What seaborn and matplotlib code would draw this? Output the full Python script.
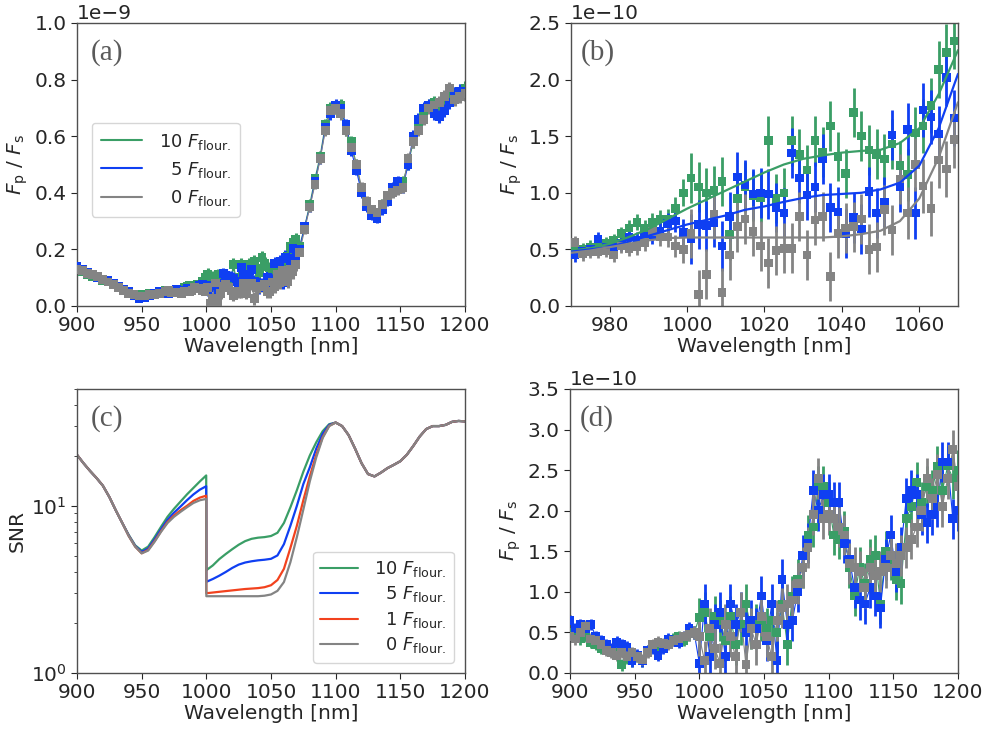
import numpy as np
import pandas as pd
import matplotlib
matplotlib.use("Agg")
import matplotlib.pyplot as plt
from matplotlib.lines import Line2D
import seaborn as sns

# ---------------- colours / labels ----------------
C_GREEN = "#3a9e66"
C_BLUE = "#0f3ff2"
C_RED = "#f2421e"
C_GRAY = "#848484"
labels3 = ["10 $F_{\\rm flour.}$", "  5 $F_{\\rm flour.}$", "  0 $F_{\\rm flour.}$"]
labels4 = ["10 $F_{\\rm flour.}$", "  5 $F_{\\rm flour.}$", "  1 $F_{\\rm flour.}$", "  0 $F_{\\rm flour.}$"]

# ---------------- panel (b) data (units 1e-10), 971..1069 step 2 ----------------
wl_b = np.arange(971, 1070, 2)
green_b = [0.50, 0.50, 0.52, 0.55, 0.55, 0.58, 0.64, 0.69, 0.74, 0.69,
           0.74, 0.77, 0.77, 0.86, 1.00, 1.13, 1.05, 1.00, 1.02, 1.10,
           0.63, 0.95, 1.05, 0.97, 0.96, 1.46, 0.95, 1.00, 1.46, 1.34,
           1.20, 1.46, 1.36, 1.59, 1.32, 1.17, 1.71, 1.50, 1.38, 1.34,
           1.30, 1.43, 1.24, 1.16, 1.53, 1.59, 1.77, 2.09, 2.24, 2.34]
blue_b = [0.45, 0.48, 0.50, 0.59, 0.52, 0.52, 0.55, 0.61, 0.58, 0.62,
          0.63, 0.66, 0.73, 0.75, 0.65, 0.59, 0.72, 0.71, 0.74, 0.53,
          0.79, 1.14, 1.07, 0.99, 1.00, 0.99, 0.87, 0.82, 1.35, 1.13,
          0.98, 1.05, 1.30, 0.87, 0.83, 0.64, 0.78, 0.68, 1.01, 0.82,
          0.92, 1.51, 1.05, 1.56, 0.82, 1.73, 1.67, 1.52, 2.02, 1.66]
gray_b = [0.56, 0.46, 0.48, 0.48, 0.49, 0.45, 0.53, 0.51, 0.52, 0.56,
          0.66, 0.61, 0.61, 0.53, 0.50, 0.64, 0.10, 0.28, 0.81, 0.12,
          0.45, 0.70, 0.77, 0.66, 0.53, 0.38, 0.49, 0.51, 0.51, 0.79,
          0.45, 0.76, 0.79, 0.26, 0.64, 0.69, 0.70, 0.77, 0.50, 0.52,
          0.85, 0.67, 1.12, 0.82, 1.25, 1.06, 0.86, 1.29, 1.21, 1.47]
err_b = [0.06, 0.06, 0.06, 0.06, 0.06, 0.06, 0.06, 0.07, 0.07, 0.07,
         0.08, 0.08, 0.09, 0.10, 0.12, 0.22, 0.22, 0.22, 0.22, 0.22,
         0.22, 0.22, 0.22, 0.22, 0.22, 0.22, 0.22, 0.22, 0.22, 0.22,
         0.22, 0.22, 0.22, 0.22, 0.22, 0.22, 0.22, 0.22, 0.22, 0.22,
         0.22, 0.22, 0.22, 0.23, 0.23, 0.24, 0.24, 0.25, 0.25, 0.25]

wl_fit = np.arange(970, 1071, 5)
green_fit = [0.49, 0.51, 0.55, 0.61, 0.68, 0.77, 0.86, 0.94, 1.02, 1.10, 1.18,
             1.25, 1.30, 1.33, 1.355, 1.37, 1.38, 1.44, 1.57, 1.87, 2.26]
blue_fit = [0.48, 0.50, 0.52, 0.57, 0.62, 0.67, 0.72, 0.76, 0.80, 0.85, 0.88,
            0.92, 0.955, 0.98, 0.99, 1.00, 1.03, 1.09, 1.24, 1.57, 2.05]
gray_fit = [0.47, 0.49, 0.52, 0.55, 0.58, 0.60, 0.605, 0.605, 0.605, 0.605, 0.605,
            0.605, 0.605, 0.605, 0.615, 0.635, 0.665, 0.75, 0.95, 1.31, 1.80]

# ---------------- panel (a) data (units 1e-9) ----------------
wl_a_left = np.arange(900, 969, 4)
green_a_left = [0.13, 0.12, 0.11, 0.105, 0.10, 0.09, 0.085, 0.075, 0.065,
                0.055, 0.045, 0.04, 0.04, 0.04, 0.045, 0.045, 0.05, 0.055]
blue_a_left = [0.14, 0.13, 0.12, 0.11, 0.10, 0.095, 0.09, 0.08, 0.07,
               0.06, 0.05, 0.035, 0.025, 0.03, 0.035, 0.045, 0.05, 0.052]
gray_a_left = [0.13, 0.125, 0.115, 0.11, 0.105, 0.095, 0.085, 0.075, 0.065,
               0.055, 0.045, 0.04, 0.035, 0.035, 0.04, 0.04, 0.045, 0.05]
err_a_left = [0.012, 0.012, 0.012, 0.012, 0.012, 0.012, 0.012, 0.012, 0.012,
              0.012, 0.012, 0.012, 0.012, 0.012, 0.012, 0.012, 0.012, 0.012]

wl_a_right = np.arange(1072, 1201, 4)
green_a_right = [0.21, 0.28, 0.36, 0.45, 0.53, 0.64, 0.70, 0.70, 0.71, 0.62, 0.58,
                 0.50, 0.41, 0.36, 0.34, 0.33, 0.36, 0.38, 0.41, 0.43, 0.44, 0.50,
                 0.58, 0.65, 0.68, 0.71, 0.72, 0.71, 0.73, 0.74, 0.75, 0.76, 0.77]
blue_a_right = [0.20, 0.28, 0.35, 0.44, 0.52, 0.63, 0.68, 0.71, 0.70, 0.64, 0.55,
                0.48, 0.40, 0.35, 0.32, 0.31, 0.34, 0.37, 0.42, 0.44, 0.42, 0.50,
                0.60, 0.66, 0.70, 0.71, 0.68, 0.67, 0.69, 0.72, 0.75, 0.76, 0.76]
gray_a_right = [0.19, 0.27, 0.35, 0.43, 0.52, 0.62, 0.69, 0.70, 0.68, 0.62, 0.56,
                0.50, 0.42, 0.37, 0.34, 0.33, 0.36, 0.39, 0.40, 0.41, 0.42, 0.52,
                0.58, 0.62, 0.66, 0.70, 0.71, 0.72, 0.74, 0.77, 0.73, 0.74, 0.75]
err_a_right = [0.015, 0.016, 0.017, 0.018, 0.019, 0.020, 0.021, 0.021, 0.021, 0.020, 0.019,
               0.018, 0.017, 0.017, 0.017, 0.017, 0.017, 0.018, 0.018, 0.019, 0.020, 0.020,
               0.021, 0.021, 0.022, 0.022, 0.022, 0.022, 0.023, 0.023, 0.023, 0.024, 0.024]

# ---------------- panel (c) data (SNR) ----------------
wl_c_left = [900, 905, 910, 915, 920, 925, 930, 935]
snr_left = [20.2, 18.0, 16.2, 14.7, 13.2, 11.3, 9.4, 7.9]
wl_c_mid = [940, 945, 950, 955, 960, 965, 970, 975, 980, 985, 990, 995, 999.9,
            1000, 1005, 1010, 1015, 1020, 1025, 1030, 1035, 1040, 1045, 1050,
            1055, 1060, 1065, 1070, 1075, 1080, 1085, 1090, 1095]
snr10_mid = [6.7, 5.8, 5.4, 5.7, 6.5, 7.5, 8.6, 9.6, 10.6, 11.7, 12.8, 14.0, 15.2,
             4.12, 4.4, 4.8, 5.15, 5.5, 5.85, 6.15, 6.35, 6.45, 6.5, 6.6,
             6.9, 7.9, 9.8, 12.4, 16.0, 20.0, 24.0, 28.0, 30.8]
snr5_mid = [6.65, 5.75, 5.3, 5.55, 6.3, 7.25, 8.25, 9.1, 9.9, 10.8, 11.7, 12.5, 13.1,
            3.51, 3.65, 3.82, 4.02, 4.25, 4.45, 4.58, 4.66, 4.72, 4.76, 4.82,
            5.05, 5.9, 7.6, 10.0, 13.5, 17.0, 22.0, 27.0, 30.5]
snr1_mid = [6.6, 5.7, 5.2, 5.45, 6.15, 7.05, 8.0, 8.75, 9.4, 10.0, 10.7, 11.2, 11.5,
            3.0, 3.03, 3.06, 3.09, 3.12, 3.15, 3.18, 3.2, 3.22, 3.26, 3.35,
            3.6, 4.2, 5.6, 7.6, 10.8, 15.0, 20.2, 25.8, 30.1]
snr0_mid = [6.6, 5.7, 5.2, 5.4, 6.1, 7.0, 7.9, 8.6, 9.2, 9.8, 10.4, 10.8, 11.0,
            2.88, 2.88, 2.88, 2.88, 2.88, 2.88, 2.88, 2.88, 2.88, 2.9, 2.95,
            3.1, 3.5, 4.6, 6.5, 9.5, 14.0, 19.5, 25.5, 30.0]
wl_c_right = [1100, 1105, 1110, 1115, 1120, 1125, 1130, 1135, 1140, 1145, 1150,
              1155, 1160, 1165, 1170, 1175, 1180, 1185, 1190, 1195, 1200]
snr_right = [31.5, 30.0, 26.5, 22.0, 18.0, 15.5, 15.0, 15.8, 16.8, 17.6, 18.5,
             20.2, 22.8, 26.0, 28.8, 30.0, 30.0, 30.5, 31.8, 32.2, 32.0]

# ---------------- panel (d) data (units 1e-10), 900..1200 step 4 ----------------
wl_d = np.arange(900, 1201, 4)
green_d = [0.50, 0.48, 0.42, 0.45, 0.38, 0.35, 0.30, 0.32, 0.28, 0.25, 0.10, 0.18, 0.15,
           0.20, 0.15, 0.28, 0.32, 0.30, 0.35, 0.38, 0.42, 0.45, 0.40, 0.48, 0.50,
           0.68, 0.75, 0.45, 0.70, 0.65, 0.40, 0.70, 0.35, 0.60, 0.85, 0.55, 0.60,
           0.65, 0.55, 0.65, 0.50, 0.85, 0.35, 0.95, 1.15, 1.30, 1.70, 1.80, 2.30,
           2.30, 2.10, 1.70, 1.65, 1.75, 1.30, 0.95, 1.30, 1.10, 1.40, 1.45, 0.85,
           1.50, 1.40, 1.15, 1.10, 1.90, 2.05, 2.35, 2.10, 2.30, 2.25, 2.55, 2.25,
           2.55, 2.40, 2.50]
blue_d = [0.65, 0.55, 0.60, 0.55, 0.60, 0.45, 0.40, 0.35, 0.30, 0.38, 0.35, 0.32, 0.15,
          0.22, 0.15, 0.28, 0.30, 0.22, 0.30, 0.42, 0.40, 0.38, 0.45, 0.55, 0.50,
          0.12, 0.85, 0.20, 0.60, 0.75, 0.20, 0.85, 0.60, 0.75, 0.50, 0.65, 0.55,
          0.95, 0.40, 0.85, 0.15, 1.15, 0.60, 0.65, 1.00, 1.45, 1.60, 2.25, 2.00,
          2.20, 2.20, 2.10, 2.10, 1.60, 1.40, 1.05, 0.90, 0.85, 1.05, 0.95, 0.80,
          1.40, 1.70, 1.25, 1.55, 2.15, 2.25, 2.20, 1.95, 1.85, 1.95, 2.05, 2.60,
          2.60, 1.90, 2.00]
gray_d = [0.45, 0.42, 0.50, 0.58, 0.42, 0.40, 0.35, 0.28, 0.25, 0.22, 0.25, 0.20, 0.25,
          0.20, 0.17, 0.25, 0.35, 0.38, 0.36, 0.35, 0.40, 0.42, 0.45, 0.48, 0.50,
          0.45, 0.15, 0.55, 0.30, 0.12, 0.60, 0.45, 0.20, 0.75, 0.10, 0.55, 0.35,
          0.70, 0.45, 0.20, 0.65, 0.80, 0.85, 0.90, 1.10, 1.30, 1.55, 1.95, 2.40,
          1.90, 1.95, 1.90, 1.80, 1.70, 1.35, 1.30, 1.25, 1.05, 1.30, 1.20, 1.25,
          1.30, 1.45, 1.35, 1.45, 1.55, 1.65, 1.80, 2.00, 2.40, 2.15, 2.45, 2.05,
          2.40, 2.75, 2.30]
err_d = [0.07, 0.07, 0.07, 0.07, 0.07, 0.07, 0.07, 0.07, 0.07, 0.07, 0.07, 0.07, 0.07,
         0.07, 0.07, 0.07, 0.07, 0.07, 0.07, 0.07, 0.07, 0.07, 0.07, 0.08, 0.08,
         0.24, 0.25, 0.25, 0.25, 0.25, 0.25, 0.25, 0.25, 0.25, 0.25, 0.25, 0.25,
         0.25, 0.25, 0.25, 0.25, 0.25, 0.25, 0.25, 0.25, 0.25, 0.25, 0.25, 0.25,
         0.25, 0.25, 0.25, 0.25, 0.25, 0.25, 0.25, 0.25, 0.25, 0.25, 0.25, 0.25,
         0.25, 0.25, 0.25, 0.25, 0.25, 0.25, 0.25, 0.25, 0.25, 0.25, 0.25, 0.25,
         0.25, 0.25, 0.25]

# ---------------- style ----------------
FS = 14.5
LFS = 13
sns.set_style("ticks")
plt.rcParams.update({
    "font.family": ["DejaVu Sans"],
    "font.size": FS,
    "axes.edgecolor": "#505050",
    "axes.linewidth": 1.0,
    "xtick.labelsize": FS,
    "ytick.labelsize": FS,
    "axes.labelsize": FS,
    "xtick.direction": "out",
    "ytick.direction": "out",
    "xtick.major.size": 4,
    "ytick.major.size": 4,
    "legend.fontsize": LFS,
    "mathtext.fontset": "dejavusans",
})

fig = plt.figure(figsize=(9.87, 7.30), dpi=100)
W, H = 987.0, 730.0
ax_a = fig.add_axes([77 / W, 1 - 306 / H, 388 / W, 283 / H])
ax_b = fig.add_axes([571 / W, 1 - 306 / H, 387 / W, 283 / H])
ax_c = fig.add_axes([77 / W, 1 - 673 / H, 388 / W, 284 / H])
ax_d = fig.add_axes([570 / W, 1 - 673 / H, 388 / W, 284 / H])

ylab = "$F_{\\rm p}$ / $F_{\\rm s}$"


def points(ax, x, y, e, color, ms=22, lw_conn=0.0, elw=1.8):
    x = np.asarray(x, float)
    y = np.asarray(y, float)
    e = np.asarray(e, float)
    ax.errorbar(x, y, yerr=e, fmt="none", ecolor=color, elinewidth=elw, capsize=0)
    if lw_conn > 0:
        ax.plot(x, y, color=color, lw=lw_conn)
    df = pd.DataFrame({"x": x, "y": y})
    sns.scatterplot(data=df, x="x", y="y", marker="s", s=ms, color=color,
                    edgecolor="none", linewidth=0, ax=ax, legend=False, zorder=3)


def panel_label(ax, text, x):
    ax.text(x, 0.895, text, transform=ax.transAxes, ha="left", va="center",
            fontsize=21, family=["Liberation Serif", "DejaVu Serif"], color="#5a5a5a")


# ---------------- (a) ----------------
sets_a = [(green_a_left, green_b, green_a_right, C_GREEN),
          (blue_a_left, blue_b, blue_a_right, C_BLUE),
          (gray_a_left, gray_b, gray_a_right, C_GRAY)]
x_a = np.concatenate([wl_a_left, wl_b, wl_a_right])
e_a = np.concatenate([np.array(err_a_left) * 1e-9, np.array(err_b) * 1e-10,
                      np.array(err_a_right) * 1e-9])
for left, mid, right, col in sets_a:
    y = np.concatenate([np.array(left) * 1e-9, np.array(mid) * 1e-10, np.array(right) * 1e-9])
    points(ax_a, x_a, y, e_a, col, ms=40, lw_conn=0.8, elw=2.2)
ax_a.set_xlim(900, 1200)
ax_a.set_ylim(0, 1e-9)
ax_a.set_xticks([900, 950, 1000, 1050, 1100, 1150, 1200])
ax_a.set_yticks(np.array([0, 0.2, 0.4, 0.6, 0.8, 1.0]) * 1e-9)
ax_a.set_xlabel("Wavelength [nm]")
ax_a.set_ylabel(ylab)
h3 = [Line2D([0], [0], color=c, lw=1.5) for c in (C_GREEN, C_BLUE, C_GRAY)]
ax_a.legend(h3, labels3, loc="upper left", bbox_to_anchor=(0.015, 0.68),
            handlelength=2.3, handletextpad=0.9, borderpad=0.5, labelspacing=0.45)
panel_label(ax_a, "(a)", 0.035)

# ---------------- (b) ----------------
for y, col in ((green_b, C_GREEN), (blue_b, C_BLUE), (gray_b, C_GRAY)):
    points(ax_b, wl_b, np.array(y) * 1e-10, np.array(err_b) * 1e-10, col, ms=38, elw=2.0)
fit_df = pd.DataFrame({
    "wl": np.concatenate([wl_fit, wl_fit, wl_fit]),
    "val": np.concatenate([np.array(green_fit), np.array(blue_fit), np.array(gray_fit)]) * 1e-10,
    "series": ["g"] * len(wl_fit) + ["b"] * len(wl_fit) + ["k"] * len(wl_fit),
})
sns.lineplot(data=fit_df, x="wl", y="val", hue="series",
             palette={"g": C_GREEN, "b": C_BLUE, "k": C_GRAY},
             lw=1.6, ax=ax_b, legend=False, zorder=4)
ax_b.set_xlim(970, 1070)
ax_b.set_ylim(0, 2.5e-10)
ax_b.set_xticks([980, 1000, 1020, 1040, 1060])
ax_b.set_yticks(np.array([0, 0.5, 1.0, 1.5, 2.0, 2.5]) * 1e-10)
ax_b.set_xlabel("Wavelength [nm]")
ax_b.set_ylabel(ylab)
panel_label(ax_b, "(b)", 0.025)

# ---------------- (c) ----------------
x_c = list(wl_c_left) + list(wl_c_mid) + list(wl_c_right)
snr_series = [("10", snr10_mid, C_GREEN), ("5", snr5_mid, C_BLUE),
              ("1", snr1_mid, C_RED), ("0", snr0_mid, C_GRAY)]
rows = []
for name, mid, col in snr_series:
    vals = list(snr_left) + list(mid) + list(snr_right)
    for xv, yv in zip(x_c, vals):
        rows.append((name, xv, yv))
snr_df = pd.DataFrame(rows, columns=["series", "wl", "snr"])
sns.lineplot(data=snr_df, x="wl", y="snr", hue="series", hue_order=["10", "5", "1", "0"],
             palette={"10": C_GREEN, "5": C_BLUE, "1": C_RED, "0": C_GRAY},
             lw=1.6, ax=ax_c, legend=False, sort=False)
ax_c.set_yscale("log")
ax_c.set_xlim(900, 1200)
ax_c.set_ylim(1, 50)
ax_c.set_xticks([900, 950, 1000, 1050, 1100, 1150, 1200])
ax_c.set_xlabel("Wavelength [nm]")
ax_c.set_ylabel("SNR")
h4 = [Line2D([0], [0], color=c, lw=1.5) for c in (C_GREEN, C_BLUE, C_RED, C_GRAY)]
ax_c.legend(h4, labels4, loc="lower right", bbox_to_anchor=(0.995, 0.005),
            handlelength=2.1, handletextpad=0.9, borderpad=0.4, labelspacing=0.3)
panel_label(ax_c, "(c)", 0.035)

# ---------------- (d) ----------------
for y, col in ((green_d, C_GREEN), (blue_d, C_BLUE), (gray_d, C_GRAY)):
    points(ax_d, wl_d, np.array(y) * 1e-10, np.array(err_d) * 1e-10, col, ms=40,
           lw_conn=0.8, elw=2.0)
ax_d.set_xlim(900, 1200)
ax_d.set_ylim(0, 3.5e-10)
ax_d.set_xticks([900, 950, 1000, 1050, 1100, 1150, 1200])
ax_d.set_yticks(np.array([0, 0.5, 1.0, 1.5, 2.0, 2.5, 3.0, 3.5]) * 1e-10)
ax_d.set_xlabel("Wavelength [nm]")
ax_d.set_ylabel(ylab)
panel_label(ax_d, "(d)", 0.025)

for ax in (ax_a, ax_b, ax_c, ax_d):
    ax.yaxis.get_offset_text().set_fontsize(FS)
    ax.xaxis.labelpad = 1
    ax.yaxis.labelpad = 3

fig.savefig("out.png", dpi=100)
